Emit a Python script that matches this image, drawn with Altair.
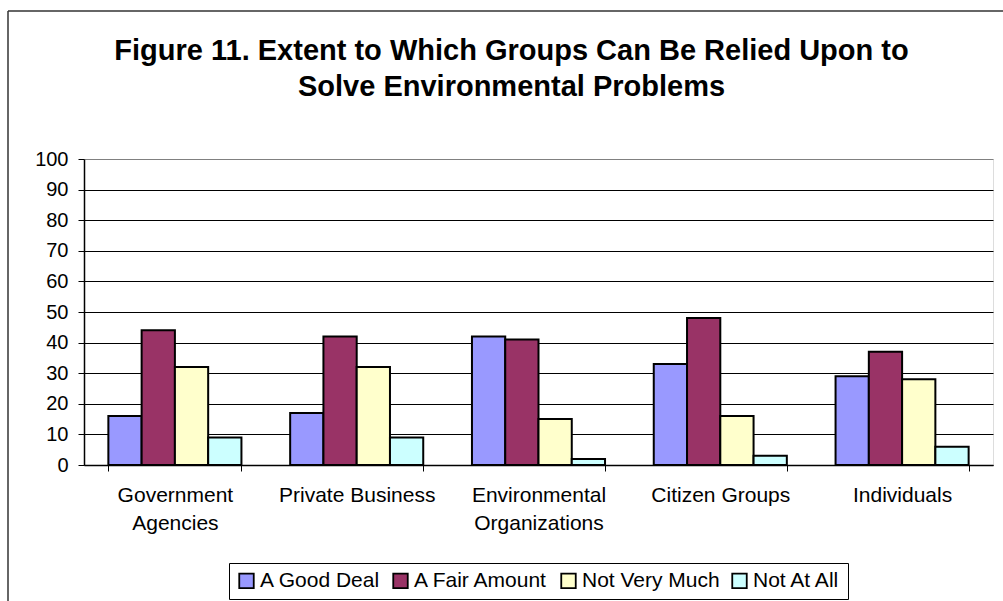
import altair as alt
import pandas as pd

# Survey groups (line breaks mark the wrapped axis labels)
groups = [
    "Government\nAgencies",
    "Private Business",
    "Environmental\nOrganizations",
    "Citizen Groups",
    "Individuals",
]
series = ["A Good Deal", "A Fair Amount", "Not Very Much", "Not At All"]
colors = ["#9999FF", "#993366", "#FFFFCC", "#CCFFFF"]

good_deal = [16, 17, 42, 33, 29]
fair_amount = [44, 42, 41, 48, 37]
not_very_much = [32, 32, 15, 16, 28]
not_at_all = [9, 9, 2, 3, 6]

y_ticks = list(range(0, 101, 10))

rows = []
for name, vals in zip(series, [good_deal, fair_amount, not_very_much, not_at_all]):
    for g, v in zip(groups, vals):
        rows.append({"group": g, "response": name, "percent": v})
df = pd.DataFrame(rows)

FONT = "Liberation Sans"

bars = alt.Chart(df).mark_bar(stroke="black", strokeWidth=2).encode(
    x=alt.X(
        "group:N",
        sort=groups,
        scale=alt.Scale(paddingInner=0.268, paddingOuter=0.134),
        axis=alt.Axis(
            title=None,
            labelAngle=0,
            labelFont=FONT,
            labelFontSize=21,
            labelColor="black",
            labelLineHeight=28,
            labelExpr="split(datum.label, '\\n')",
            labelPadding=13,
            tickBand="extent",
            tickSize=6,
            tickColor="black",
            domainColor="black",
            domainWidth=1.5,
        ),
    ),
    xOffset=alt.XOffset(
        "response:N", sort=series, scale=alt.Scale(paddingInner=0, paddingOuter=0)
    ),
    y=alt.Y(
        "percent:Q",
        scale=alt.Scale(domain=[0, 100], nice=False),
        axis=alt.Axis(
            title=None,
            values=y_ticks,
            labelFont=FONT,
            labelFontSize=20,
            labelColor="black",
            labelPadding=10,
            tickSize=6,
            tickColor="black",
            domainColor="black",
            domainWidth=1.5,
            gridColor=alt.condition(
                "datum.value == 100", alt.value("#808080"), alt.value("black")
            ),
            gridWidth=1,
        ),
    ),
    color=alt.Color(
        "response:N",
        sort=series,
        scale=alt.Scale(domain=series, range=colors),
        legend=alt.Legend(
            title=None,
            orient="none",
            legendX=145,
            legendY=404,
            direction="horizontal",
            symbolType="square",
            symbolSize=210,
            symbolStrokeColor="black",
            symbolStrokeWidth=1.8,
            symbolOpacity=1,
            labelFont=FONT,
            labelFontSize=21,
            labelColor="black",
            labelOffset=3,
            columnPadding=8,
            strokeColor="black",
            padding=7,
        ),
    ),
)

# Outer chart frame (top and left edges)
frame_df = pd.DataFrame({"k": [0]})
frame_top = alt.Chart(frame_df).mark_rule(color="#333333", strokeWidth=1.5).encode(
    x=alt.value(-76), x2=alt.value(940), y=alt.value(-148)
)
frame_left = alt.Chart(frame_df).mark_rule(color="#333333", strokeWidth=1.5).encode(
    x=alt.value(-76), y=alt.value(-148), y2=alt.value(470)
)

chart = (
    alt.layer(frame_top, frame_left, bars)
    .properties(
        width=909,
        height=306,
        autosize=alt.AutoSizeParams(type="none"),
        padding={"left": 84, "top": 159, "right": 10, "bottom": 136},
        title=alt.TitleParams(
            text=[
                "Figure 11. Extent to Which Groups Can Be Relied Upon to",
                "Solve Environmental Problems",
            ],
            font=FONT,
            fontSize=29,
            fontWeight="bold",
            color="black",
            anchor="middle",
            dx=-27,
            offset=-92,
            lineHeight=36,
        ),
    )
    .configure_view(stroke="#808080", strokeWidth=2)
    .configure(background="white")
)

chart.save("out.html", embed_options={"renderer": "svg", "actions": False})
